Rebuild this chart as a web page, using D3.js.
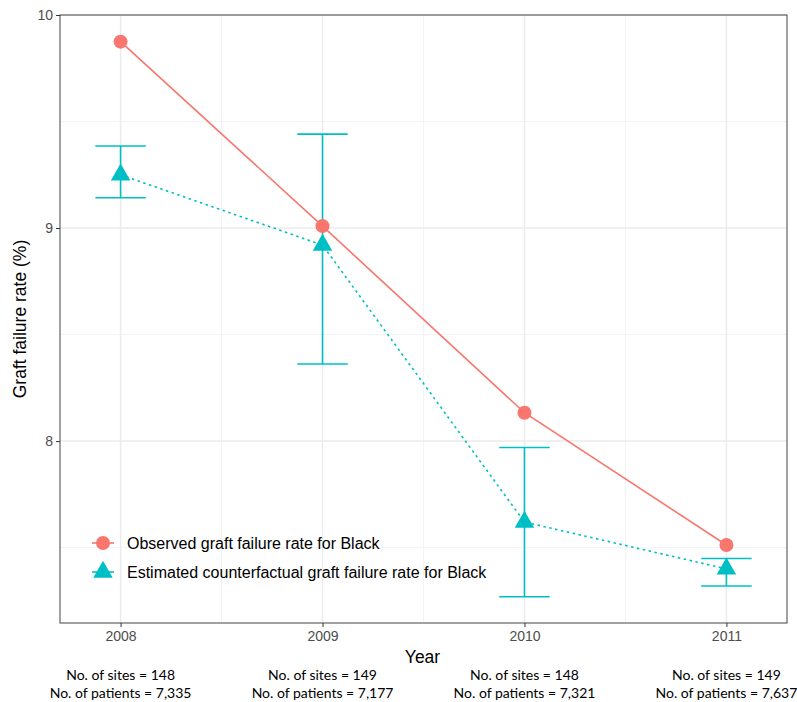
<!DOCTYPE html>
<meta charset="utf-8">
<style>
    body { margin: 0; background: #fff; }
    .axis text { font-family: "Liberation Sans", Arial, sans-serif; font-size: 14px; fill: #4D4D4D; }
    .axis line, .axis path { stroke: #333; }
    .title { font-family: "Liberation Sans", Arial, sans-serif; font-size: 17.5px; fill: #000; }
    .legend text { font-family: "Liberation Sans", Arial, sans-serif; font-size: 16px; fill: #000; }
    .note { font-family: Lato, "Liberation Sans", sans-serif; font-size: 14px; fill: #000; }
</style>
<body>
<svg width="797" height="702"></svg>
<script src="https://cdn.jsdelivr.net/npm/d3@7"></script>
<script>

    var years = [2008, 2009, 2010, 2011];
    var observed = [9.875, 9.009, 8.133, 7.512];
    var estimated = [9.25, 8.92, 7.62, 7.40];
    var estLow = [9.142, 8.362, 7.269, 7.32];
    var estHigh = [9.385, 9.441, 7.97, 7.449];
    var sites = [148, 149, 148, 149];
    var patients = ["7,335", "7,177", "7,321", "7,637"];
    var yTicks = [8, 9, 10];
    var yMinor = [7.5, 8.5, 9.5];
    var xMinor = [2008.5, 2009.5, 2010.5];
    var legendLabels = ["Observed graft failure rate for Black",
        "Estimated counterfactual graft failure rate for Black"];

    var red = "#F8766D", teal = "#00BFC4";

    var svg = d3.select("svg");
    var pLeft = 60, pRight = 787, pTop = 15, pBottom = 623;

    var x = d3.scaleLinear().domain([2007.7, 2011.3]).range([pLeft, pRight]);
    var y = d3.scaleLinear().domain([7.146, 10.0]).range([pBottom, pTop]);

    var grid = svg.append("g");
    // minor grid
    grid.selectAll(".ym").data(yMinor).enter().append("line")
        .attr("x1", pLeft).attr("x2", pRight)
        .attr("y1", d => y(d)).attr("y2", d => y(d))
        .attr("stroke", "#F3F3F3").attr("stroke-width", 1);
    grid.selectAll(".xm").data(xMinor).enter().append("line")
        .attr("y1", pTop).attr("y2", pBottom)
        .attr("x1", d => x(d)).attr("x2", d => x(d))
        .attr("stroke", "#F3F3F3").attr("stroke-width", 1);
    // major grid
    grid.selectAll(".yM").data(yTicks).enter().append("line")
        .attr("x1", pLeft).attr("x2", pRight)
        .attr("y1", d => y(d)).attr("y2", d => y(d))
        .attr("stroke", "#EBEBEB").attr("stroke-width", 1.5);
    grid.selectAll(".xM").data(years).enter().append("line")
        .attr("y1", pTop).attr("y2", pBottom)
        .attr("x1", d => x(d)).attr("x2", d => x(d))
        .attr("stroke", "#EBEBEB").attr("stroke-width", 1.5);

    // observed line
    var line = d3.line().x(d => x(d[0])).y(d => y(d[1]));
    svg.append("path")
        .datum(d3.zip(years, observed))
        .attr("d", line)
        .attr("fill", "none").attr("stroke", red).attr("stroke-width", 1.6);

    // error bars
    var capW = 0.125;
    var eb = svg.append("g").attr("stroke", teal).attr("stroke-width", 1.6);
    years.forEach(function (yr, i) {
        eb.append("line").attr("x1", x(yr)).attr("x2", x(yr))
            .attr("y1", y(estLow[i])).attr("y2", y(estHigh[i]));
        eb.append("line").attr("x1", x(yr - capW)).attr("x2", x(yr + capW))
            .attr("y1", y(estLow[i])).attr("y2", y(estLow[i]));
        eb.append("line").attr("x1", x(yr - capW)).attr("x2", x(yr + capW))
            .attr("y1", y(estHigh[i])).attr("y2", y(estHigh[i]));
    });

    // estimated dotted line
    svg.append("path")
        .datum(d3.zip(years, estimated))
        .attr("d", line)
        .attr("fill", "none").attr("stroke", teal).attr("stroke-width", 1.6)
        .attr("stroke-dasharray", "2.5,3.5");

    var tri = d3.symbol().type(d3.symbolTriangle).size(165);

    svg.selectAll(".obs").data(observed).enter().append("circle")
        .attr("cx", (d, i) => x(years[i])).attr("cy", d => y(d))
        .attr("r", 7).attr("fill", red);

    svg.selectAll(".est").data(estimated).enter().append("path")
        .attr("d", tri)
        .attr("transform", (d, i) => "translate(" + x(years[i]) + "," + y(d) + ")")
        .attr("fill", teal);

    // panel border
    svg.append("rect")
        .attr("x", pLeft).attr("y", pTop)
        .attr("width", pRight - pLeft).attr("height", pBottom - pTop)
        .attr("fill", "none").attr("stroke", "#555").attr("stroke-width", 1.1);

    // axes
    svg.append("g").attr("class", "axis")
        .attr("transform", "translate(0," + pBottom + ")")
        .call(d3.axisBottom(x).tickValues(years).tickFormat(d3.format("d")).tickSize(4).tickPadding(4))
        .call(g => g.select(".domain").remove());
    svg.append("g").attr("class", "axis")
        .attr("transform", "translate(" + pLeft + ",0)")
        .call(d3.axisLeft(y).tickValues(yTicks).tickFormat(d3.format("d")).tickSize(4).tickPadding(3))
        .call(g => g.select(".domain").remove());

    svg.append("text").attr("class", "title")
        .attr("x", (pLeft + pRight) / 2 - 1).attr("y", 663)
        .attr("text-anchor", "middle").text("Year");
    svg.append("text").attr("class", "title")
        .attr("transform", "translate(26," + (pTop + pBottom) / 2 + ") rotate(-90)")
        .attr("text-anchor", "middle").text("Graft failure rate (%)");

    // legend
    var legend = svg.append("g").attr("class", "legend")
        .attr("transform", "translate(103,543)");
    var lg = legend.selectAll("g").data(legendLabels).enter().append("g")
        .attr("transform", (d, i) => "translate(0," + i * 29 + ")");
    lg.append("line").attr("x1", -11).attr("x2", 11)
        .attr("stroke", (d, i) => i === 0 ? red : teal).attr("stroke-width", 1.6);
    lg.filter((d, i) => i === 0).append("circle").attr("r", 7).attr("fill", red);
    lg.filter((d, i) => i === 1).append("path").attr("d", tri).attr("fill", teal);
    lg.append("text").attr("x", 24).attr("dy", "0.35em").text(d => d);

    // notes below axis
    var notes = svg.selectAll(".notes").data(years).enter().append("g")
        .attr("transform", d => "translate(" + x(d) + ",0)");
    notes.append("text").attr("class", "note").attr("y", 680).attr("text-anchor", "middle")
        .text((d, i) => "No. of sites = " + sites[i]);
    notes.append("text").attr("class", "note").attr("y", 698).attr("text-anchor", "middle")
        .text((d, i) => "No. of patients = " + patients[i]);

</script>
</body>
